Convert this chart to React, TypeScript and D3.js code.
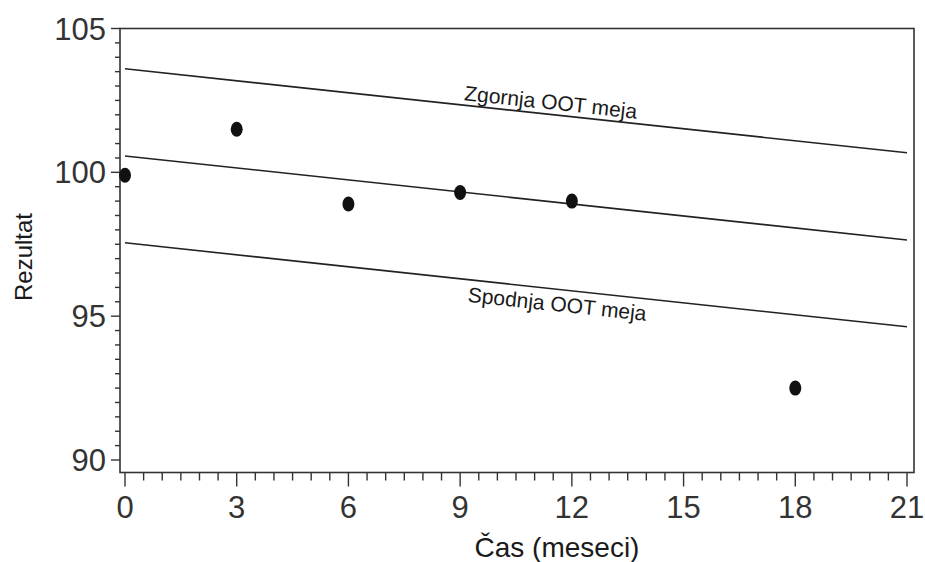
import React from "react";
import * as d3 from "d3";

const months = [0, 3, 6, 9, 12, 18];
const results = [99.9, 101.5, 98.9, 99.3, 99.0, 92.5];

const upperLimit: [number, number][] = [[0, 103.6], [21, 100.68]];
const centerLine: [number, number][] = [[0, 100.57], [21, 97.65]];
const lowerLimit: [number, number][] = [[0, 97.55], [21, 94.63]];

const xMajorTicks = [0, 3, 6, 9, 12, 15, 18, 21];
const yMajorTicks = [90, 95, 100, 105];

const xTitle = "Čas (meseci)";
const yTitle = "Rezultat";
const upperLabel = "Zgornja OOT meja";
const lowerLabel = "Spodnja OOT meja";

const W = 925;
const H = 562;
const FL = 120, FR = 914, FT = 28.5, FB = 472.5;

export default function App() {
  const x = d3.scaleLinear().domain([0, 21]).range([125, 907]);
  const y = d3.scaleLinear().domain([90, 105]).range([460, 28.5]);
  const line = d3.line<[number, number]>().x(d => x(d[0])).y(d => y(d[1]));

  const xMinor = d3.range(0, 21.001, 0.5);
  const yMinor = d3.range(90, 105.001, 0.5);

  const font = "'Liberation Sans', Arial, Helvetica, sans-serif";
  const ink = "#1a1a1a";

  const labelAt = (pts: [number, number][], xv: number, off: number, text: string, key: string) => {
    const x0 = x(pts[0][0]), y0 = y(pts[0][1]);
    const x1 = x(pts[1][0]), y1 = y(pts[1][1]);
    const ang = (Math.atan2(y1 - y0, x1 - x0) * 180) / Math.PI;
    const px = x(xv);
    const t = (px - x0) / (x1 - x0);
    const py = y0 + t * (y1 - y0);
    return (
      <text key={key} transform={`translate(${px},${py}) rotate(${ang})`} y={off}
        textAnchor="middle" fontSize={21} fontFamily={font} fill={ink}>{text}</text>
    );
  };

  return (
    <svg width={W} height={H} style={{ position: "absolute", left: 0, top: 0, background: "#fff" }}>
      <rect x={0} y={0} width={W} height={H} fill="#fff" />
      {/* frame */}
      <rect x={FL} y={FT} width={FR - FL} height={FB - FT} fill="none" stroke="#333" strokeWidth={1.6} />
      {/* y ticks */}
      {yMinor.map((v, i) => {
        const major = Math.abs(v % 5) < 1e-6;
        return <line key={"ym" + i} x1={FL} x2={FL - (major ? 9 : 5)} y1={y(v)} y2={y(v)} stroke="#333" strokeWidth={1.4} />;
      })}
      {yMajorTicks.map(v => (
        <text key={"yl" + v} x={106} y={y(v)} dy="0.36em" textAnchor="end" fontSize={31} fontFamily={font} fill="#333">{v}</text>
      ))}
      {/* x ticks */}
      {xMinor.map((v, i) => {
        const major = Math.abs(v % 3) < 1e-6;
        return <line key={"xm" + i} x1={x(v)} x2={x(v)} y1={FB} y2={FB + (major ? 14 : 8)} stroke="#333" strokeWidth={1.4} />;
      })}
      {xMajorTicks.map(v => (
        <text key={"xl" + v} x={x(v)} y={518} textAnchor="middle" fontSize={31} fontFamily={font} fill="#333">{v}</text>
      ))}
      {/* lines */}
      {[upperLimit, centerLine, lowerLimit].map((pts, i) => (
        <path key={"ln" + i} d={line(pts) || ""} fill="none" stroke="#222" strokeWidth={1.6} />
      ))}
      {labelAt(upperLimit, 11.4, -5, upperLabel, "ul")}
      {labelAt(lowerLimit, 11.65, 22, lowerLabel, "ll")}
      {/* points */}
      {months.map((m, i) => (
        <ellipse key={"p" + i} cx={x(m)} cy={y(results[i])} rx={6} ry={7.5} fill="#111" />
      ))}
      {/* titles */}
      <text x={557} y={557} textAnchor="middle" fontSize={28} fontFamily={font} fill={ink}>{xTitle}</text>
      <text transform="translate(32,257) rotate(-90)" textAnchor="middle" fontSize={24} fontFamily={font} fill={ink}>{yTitle}</text>
    </svg>
  );
}
